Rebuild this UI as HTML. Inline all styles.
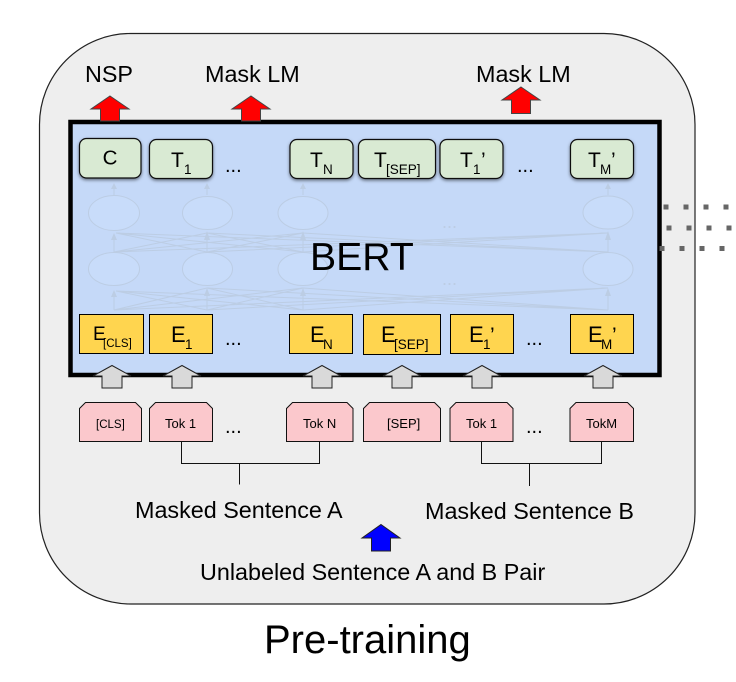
<!DOCTYPE html>
<html><head><meta charset="utf-8"><style>
html,body{margin:0;padding:0;background:#fff;width:736px;height:682px;overflow:hidden}
svg{display:block}
text{font-family:"Liberation Sans",Arial,sans-serif;fill:#000}
.l{font-size:23.35px}
.t{font-size:21px}.s{font-size:13.5px}
.e{font-size:22px}
.p{font-size:13px}
.d{font-size:20px}
</style></head><body>
<svg width="736" height="682" viewBox="0 0 736 682" xmlns="http://www.w3.org/2000/svg">
<defs>
<filter id="sh" x="-20%" y="-20%" width="140%" height="150%"><feDropShadow dx="0" dy="1.5" stdDeviation="1.5" flood-color="#000" flood-opacity=".5"/></filter>
</defs>
<rect x="39.5" y="33.5" width="655.5" height="570.5" rx="91" ry="91" fill="#eeeeee" stroke="#222" stroke-width="1.2"/>
<rect x="70.5" y="122" width="589" height="253" fill="#c5d9f8" stroke="#000" stroke-width="4.5"/>

<g fill="#666">
<rect x="663.5" y="204.5" width="5" height="5"/><rect x="683.5" y="204.5" width="5" height="5"/><rect x="703.5" y="204.5" width="5" height="5"/><rect x="723.5" y="204.5" width="5" height="5"/>
<rect x="666.5" y="225.5" width="5" height="5"/><rect x="686.5" y="225.5" width="5" height="5"/><rect x="706.5" y="225.5" width="5" height="5"/><rect x="726.5" y="225.5" width="5" height="5"/>
<rect x="659.5" y="246" width="5" height="5"/><rect x="679.5" y="246" width="5" height="5"/><rect x="699.5" y="246" width="5" height="5"/><rect x="719.5" y="246" width="5" height="5"/>
</g>

<!-- faint network -->
<g fill="none" stroke="#bccde4" stroke-width="1">
<path d="M114 252L114 234M114 252L207 233M114 252L303 233M114 252L608 233M207 252L116 233M207 252L207 234M207 252L303 233M207 252L608 233M303 252L116 233M303 252L207 233M303 252L303 234M303 252L608 233M608 252L116 233M608 252L207 233M608 252L303 233M608 252L608 234"/>
<path d="M114 310L114 292M114 310L207 288M114 310L303 288M114 310L608 288M207 310L116 291M207 310L207 290M207 310L303 288M207 310L608 288M303 310L116 291M303 310L207 288M303 310L303 290M303 310L608 288M608 310L116 291M608 310L207 288M608 310L303 288M608 310L608 290"/>
<path d="M114 195V184M207 195V184M303 195V184M608 195V184"/>
<ellipse cx="114" cy="213" rx="25.5" ry="17.5" fill="#c8dcfa"/><ellipse cx="207.5" cy="213" rx="25" ry="16.5" fill="#c8dcfa"/><ellipse cx="303" cy="213" rx="25" ry="16.5" fill="#c8dcfa"/><ellipse cx="608" cy="212.5" rx="25" ry="16.5" fill="#c8dcfa"/>
<ellipse cx="114" cy="269" rx="25.5" ry="16.5" fill="#c8dcfa"/><ellipse cx="207.5" cy="269" rx="25" ry="16.5" fill="#c8dcfa"/><ellipse cx="303" cy="269" rx="25" ry="16.5" fill="#c8dcfa"/><ellipse cx="608" cy="269" rx="25" ry="16.5" fill="#c8dcfa"/>
</g>
<g fill="#bccde4">
<path d="M111 189L114 183L117 189ZM204 189L207 183L210 189ZM300 189L303 183L306 189ZM605 189L608 183L611 189Z"/>
<path d="M111 240L114 233L117 240ZM204 240L207 231L210 240ZM300 240L303 231L306 240ZM605 240L608 231L611 240Z"/>
<path d="M111 297L114 290L117 297ZM204 296L207 288L210 296ZM300 296L303 288L306 296ZM605 296L608 288L611 296Z"/>
</g>
<text x="442" y="228" font-size="18" style="fill:#bccde4">...</text>
<text x="442" y="285" font-size="18" style="fill:#bccde4">...</text>

<!-- green boxes -->
<g fill="#d9ead3" stroke="#111" stroke-width="1.2" filter="url(#sh)">
<rect x="79.5" y="138.5" width="61.5" height="39.5" rx="7"/>
<rect x="149.5" y="139.5" width="63" height="39" rx="7"/>
<rect x="290" y="139.5" width="63" height="39" rx="7"/>
<rect x="358.5" y="139.5" width="77" height="39" rx="7"/>
<rect x="440" y="139.5" width="63" height="39" rx="7"/>
<rect x="570.5" y="139.5" width="63" height="39" rx="7"/>
</g>
<text x="110" y="164.5" font-size="20.5" text-anchor="middle">C</text>
<text class="t" x="171" y="167">T</text><text class="s" x="184" y="174">1</text>
<text class="d" x="225" y="172">...</text>
<text class="t" x="310" y="167">T</text><text class="s" x="323" y="174">N</text>
<text class="t" x="374" y="167">T</text><text class="s" x="386" y="174">[SEP]</text>
<text class="t" x="460" y="167">T</text><text class="s" x="473" y="174">1</text><text class="t" x="481" y="167">’</text>
<text class="d" x="517" y="172">...</text>
<text class="t" x="588" y="167">T</text><text class="s" x="600" y="174">M</text><text class="t" x="611" y="167">’</text>

<text x="310" y="270" font-size="39.2">BERT</text>

<!-- yellow boxes -->
<g fill="#ffd54f" stroke="#000" stroke-width="1">
<rect x="79.5" y="314.5" width="64" height="39"/>
<rect x="149.5" y="314.5" width="63" height="39"/>
<rect x="289.5" y="314.5" width="63" height="39"/>
<rect x="363.5" y="314.5" width="77" height="40"/>
<rect x="450.5" y="314.5" width="63" height="39"/>
<rect x="570.5" y="314.5" width="63" height="39"/>
</g>
<text x="93" y="340" font-size="19">E</text><text x="103" y="347" font-size="11.5">[CLS]</text>
<text class="e" x="171" y="342">E</text><text class="s" x="185" y="349">1</text>
<text class="d" x="225" y="345">...</text>
<text class="e" x="310" y="342">E</text><text class="s" x="323" y="349">N</text>
<text class="e" x="381" y="342">E</text><text class="s" x="394" y="349">[SEP]</text>
<text class="e" x="469" y="342">E</text><text class="s" x="483" y="349">1</text><text class="t" x="490" y="342">’</text>
<text class="d" x="526" y="345">...</text>
<text class="e" x="588" y="342">E</text><text class="s" x="601" y="349">M</text><text class="t" x="612" y="342">’</text>

<!-- gray arrows -->
<g fill="#d9d9d9" stroke="#222" stroke-width="1">
<path d="M112 365.5L131 376H122V388H102V376H93Z"/>
<path d="M182 365.5L201 376H192V388H172V376H163Z"/>
<path d="M322 365.5L341 376H332V388H312V376H303Z"/>
<path d="M402 365.5L421 376H412V388H392V376H383Z"/>
<path d="M482 365.5L501 376H492V388H472V376H463Z"/>
<path d="M603 365.5L622 376H613V388H593V376H584Z"/>
</g>

<!-- pink boxes -->
<g fill="#fbc8cc" stroke="#111" stroke-width="1">
<path d="M85.5 402.5H135.5L141.5 408.5V441.5H79.5V408.5Z"/>
<path d="M155.5 402.5H206.5L212.5 408.5V441.5H149.5V408.5Z"/>
<path d="M292.5 402.5H347L353 408.5V441.5H286.5V408.5Z"/>
<path d="M369.5 402.5H434.5L440.5 408.5V441.5H363.5V408.5Z"/>
<path d="M456 402.5H507L513 408.5V441.5H450V408.5Z"/>
<path d="M576 402.5H627.5L633.5 408.5V441.5H570V408.5Z"/>
</g>
<text x="96" y="428" font-size="11.5">[CLS]</text>
<text class="p" x="165" y="428">Tok 1</text>
<text class="d" x="225" y="433">...</text>
<text class="p" x="303" y="428">Tok N</text>
<text x="387" y="428" font-size="13">[SEP]</text>
<text class="p" x="466" y="428">Tok 1</text>
<text class="d" x="526" y="433">...</text>
<text class="p" x="586" y="428">TokM</text>

<!-- connectors -->
<g fill="none" stroke="#111" stroke-width="1">
<path d="M181.5 441.5V463.5H319.5V441.5M239.5 463.5V484.5"/>
<path d="M481.5 441.5V463.5H601.5V441.5M529.5 463.5V486"/>
</g>

<!-- red and blue arrows -->
<g fill="#ff0000" stroke="#444" stroke-width="1">
<path d="M110 96L129 109H119.5V121H100.5V109H91Z"/>
<path d="M251 96L270 109H260.5V121H241.5V109H232Z"/>
<path d="M521 87L540 100H530.5V113.5H511.5V100H502Z"/>
</g>
<path d="M381 524.5L400 538H390.5V551H371.5V538H362Z" fill="#0000ff" stroke="#222" stroke-width="1"/>

<text class="l" x="85" y="82">NSP</text>
<text class="l" x="205" y="82">Mask LM</text>
<text class="l" x="476" y="82">Mask LM</text>
<text class="l" x="135" y="518">Masked Sentence A</text>
<text class="l" x="425" y="519">Masked Sentence B</text>
<text class="l" x="200" y="580">Unlabeled Sentence A and B Pair</text>
<text x="264" y="653" font-size="40">Pre-training</text>
</svg>
</body></html>
